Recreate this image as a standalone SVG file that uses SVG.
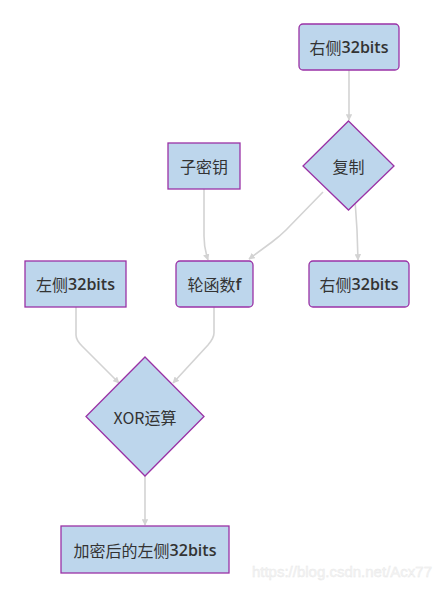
<svg xmlns="http://www.w3.org/2000/svg" width="442" height="589" viewBox="0 0 442 589">
<style>
.n{fill:#bdd6ec;stroke:#9a32a6;stroke-width:1.3}
.t{font-family:"Noto Sans CJK SC","Noto Sans",sans-serif;font-size:16px;fill:#333;text-anchor:middle;dominant-baseline:central}
.b{font-family:"Open Sans","Noto Sans",sans-serif;font-weight:600}
.e{fill:none;stroke:#d3d3d3;stroke-width:1.6}
</style>
<defs>
<marker id="a" viewBox="0 0 10 10" refX="9" refY="5" markerWidth="6.5" markerHeight="6.5" orient="auto" markerUnits="userSpaceOnUse">
<path d="M0,0 L10,5 L0,10 z" fill="#d3d3d3"/>
</marker>
</defs>
<rect width="442" height="589" fill="#fff"/>
<g id="edges">
<path class="e" d="M349,70 L349,120" marker-end="url(#a)"/>
<path class="e" d="M323,192 L286,230 Q280,236 272,242 L249,259" marker-end="url(#a)"/>
<path class="e" d="M355,200 L357,230 L358,260" marker-end="url(#a)"/>
<path class="e" d="M204,189 L204,236 Q204,248 208,260" marker-end="url(#a)"/>
<path class="e" d="M76,307 L76,335 Q76,340 82,346 L119,383" marker-end="url(#a)"/>
<path class="e" d="M214,307 L214,333 Q214,338 208,345 L173,383" marker-end="url(#a)"/>
<path class="e" d="M145,476 L145,525" marker-end="url(#a)"/>
</g>
<g id="n1"><rect class="n" x="299" y="24" width="100" height="46" rx="4"/><text class="t" x="349" y="47">右侧<tspan class="b">32bits</tspan></text></g>
<g id="n2"><polygon class="n" points="348.5,121 394,166 348.5,210 303,166"/><text class="t" x="348.5" y="166">复制</text></g>
<g id="n3"><rect class="n" x="168" y="143" width="72" height="46"/><text class="t" x="204" y="166">子密钥</text></g>
<g id="n4"><rect class="n" x="176" y="261" width="77" height="46" rx="4"/><text class="t" x="214.5" y="284">轮函数<tspan class="b">f</tspan></text></g>
<g id="n5"><rect class="n" x="25" y="261" width="101" height="46"/><text class="t" x="75.5" y="284">左侧<tspan class="b">32bits</tspan></text></g>
<g id="n6"><rect class="n" x="309" y="261" width="100" height="46" rx="4"/><text class="t" x="359" y="284">右侧<tspan class="b">32bits</tspan></text></g>
<g id="n7"><polygon class="n" points="145,357 204,416.5 145,476 86,416.5"/><text class="t" x="145" y="416.5">XOR运算</text></g>
<g id="n8"><rect class="n" x="61" y="526" width="168" height="47"/><text class="t" x="145" y="549.5">加密后的左侧<tspan class="b">32bits</tspan></text></g>
<text x="432" y="577" font-family="Liberation Sans,Arial,sans-serif" font-size="15" fill="#f5f5f5" stroke="#e8e8e8" stroke-width="0.4" text-anchor="end">https://blog.csdn.net/Acx77</text>
</svg>
